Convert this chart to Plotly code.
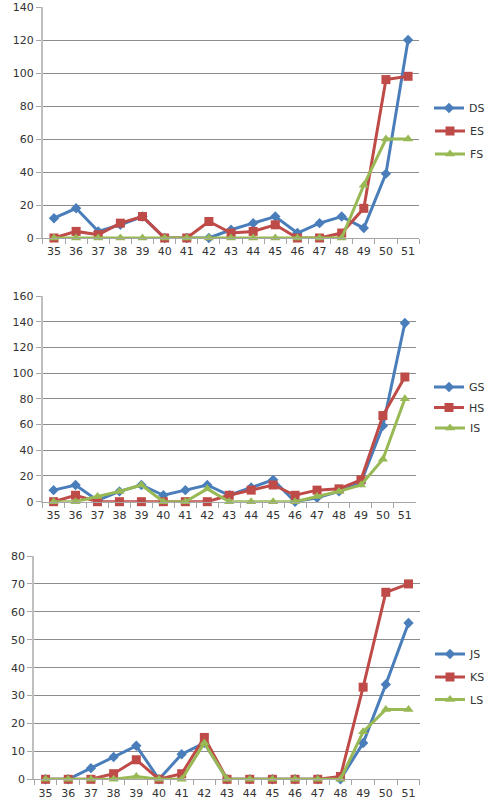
import plotly.graph_objects as go

categories = [str(v) for v in range(35, 52)]

# Panel 1
DS = [12, 18, 4, 8, 13, 0, 0, 0, 5, 9, 13, 3, 9, 13, 6, 39, 120]
ES = [0, 4, 2, 9, 13, 0, 0, 10, 3, 4, 8, 0, 0, 3, 18, 96, 98]
FS = [0, 0, 0, 0, 0, 0, 0, 0, 0, 0, 0, 0, 0, 0, 32, 60, 60]
# Panel 2
GS = [9, 13, 1, 8, 13, 5, 9, 13, 5, 11, 17, 0, 3, 8, 15, 59, 139]
HS = [0, 5, 0, 0, 0, 0, 0, 0, 5, 9, 13, 5, 9, 10, 17, 67, 97]
IS = [0, 0, 4, 8, 13, 0, 0, 10, 0, 0, 0, 0, 4, 8, 13, 33, 80]
# Panel 3
JS = [0, 0, 4, 8, 12, 0, 9, 13, 0, 0, 0, 0, 0, 0, 13, 34, 56]
KS = [0, 0, 0, 2, 7, 0, 2, 15, 0, 0, 0, 0, 0, 1, 33, 67, 70]
LS = [0, 0, 0, 0, 1, 0, 0, 13, 0, 0, 0, 0, 0, 0, 17, 25, 25]

BLUE = "#4A7EBB"
RED = "#BE4B48"
GREEN = "#98B954"
FONT = "DejaVu Sans"
TXT = "#333333"
W, H = 490, 812

panels = [
    dict(series=[("DS", DS), ("ES", ES), ("FS", FS)], ymax=140, dtick=20,
         xdom=(43, 420), ydom=(7, 238), leg=[108, 131, 154]),
    dict(series=[("GS", GS), ("HS", HS), ("IS", IS)], ymax=160, dtick=20,
         xdom=(42.7, 416.7), ydom=(296, 501.7), leg=[387, 407.5, 428]),
    dict(series=[("JS", JS), ("KS", KS), ("LS", LS)], ymax=80, dtick=10,
         xdom=(34.3, 420.7), ydom=(556, 779.3), leg=[654, 677, 699.5]),
]
styles = [
    dict(color=BLUE, symbol="diamond", size=8),
    dict(color=RED, symbol="square", size=9),
    dict(color=GREEN, symbol="triangle-up", size=9),
]

fig = go.Figure()
layout = dict(
    width=W, height=H, margin=dict(l=0, r=0, t=0, b=0),
    paper_bgcolor="white", plot_bgcolor="white", showlegend=True,
    font=dict(family=FONT, size=11, color=TXT),
)
legend_idx = 0
for p_i, p in enumerate(panels):
    ax = "" if p_i == 0 else str(p_i + 1)
    for s_i, (name, vals) in enumerate(p["series"]):
        legend_idx += 1
        lg = "legend" if legend_idx == 1 else f"legend{legend_idx}"
        st = styles[s_i]
        fig.add_trace(go.Scatter(
            x=categories, y=vals, name=name, mode="lines+markers",
            line=dict(color=st["color"], width=3),
            marker=dict(color=st["color"], symbol=st["symbol"], size=st["size"]),
            cliponaxis=False, xaxis="x" + ax, yaxis="y" + ax, legend=lg,
            showlegend=True,
        ))
        layout[lg] = dict(
            x=430 / W, y=1 - p["leg"][s_i] / H, xanchor="left", yanchor="middle",
            bgcolor="rgba(0,0,0,0)", borderwidth=0,
            font=dict(family=FONT, size=11, color=TXT),
            itemsizing="trace", itemwidth=30,
        )
    x0, x1 = p["xdom"]
    y0, y1 = p["ydom"]
    layout["xaxis" + ax] = dict(
        domain=[x0 / W, x1 / W], anchor="y" + ax, type="category",
        range=[-0.5, 16.5], tickson="boundaries", ticks="outside", ticklen=5,
        tickangle=0, tickcolor="#a6a6a6", showline=True, linecolor="#a6a6a6",
        linewidth=1, showgrid=False, zeroline=False, automargin=False,
        ticklabelstandoff=3,
        tickfont=dict(family=FONT, size=11, color=TXT),
    )
    layout["yaxis" + ax] = dict(
        domain=[1 - y1 / H, 1 - y0 / H], anchor="x" + ax,
        range=[0, p["ymax"]], dtick=p["dtick"], ticks="outside", ticklen=5,
        tickcolor="#a6a6a6", showline=True, linecolor="#bfbfbf", linewidth=2,
        showgrid=True, gridcolor="#8c8c8c", gridwidth=1, zeroline=False,
        automargin=False, tickfont=dict(family=FONT, size=11, color=TXT),
    )

fig.update_layout(**layout)
fig.write_html("out.html")
